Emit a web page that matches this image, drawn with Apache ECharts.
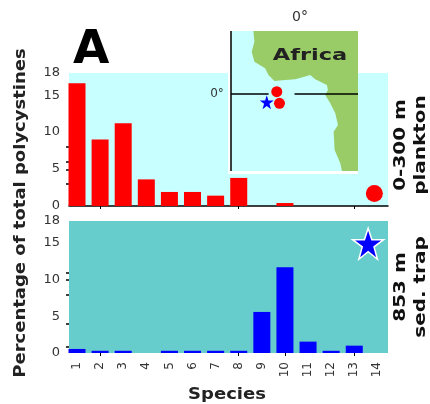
<!DOCTYPE html>
<html><head><meta charset="utf-8">
<style>html,body{margin:0;padding:0;background:#fff}#c{width:430px;height:404px}</style>
<script src="https://cdn.jsdelivr.net/npm/echarts@6/dist/echarts.min.js"></script></head>
<body><div id="c"></div>
<script>
const species = [1,2,3,4,5,6,7,8,9,10,11,12,13,14];
const yLabels = [0,5,10,15,18];
const topYTicks = [3,4.9,6,8];
const bottomYTicks = [0.8,4,8,10,10.9];
const topXTicks = [2,8,13];
const bottomXTicks = [2,8,10,13];
const plankton = [16.6,9.0,11.2,3.6,1.9,1.9,1.4,3.8,0,0.4,0,0,0,0];
const sedTrap = [0.55,0.3,0.3,0,0.3,0.3,0.3,0.3,5.6,11.7,1.55,0.3,1.0,0];
const coast = [[-9.33,12.6],[-9.13,10.47],[-9.67,8.47],[-9.13,6.47],[-7,5.13],[-6.33,3.8],[-5.13,2.6],[-3,2.8],[-1,2.93],[0.47,3.33],[2,3.8],[3,2.93],[5.33,1.8],[5.53,0.8],[5,-0.2],[6,-1.87],[7,-3.87],[7.53,-6.2],[6.67,-7.53],[6.87,-11.2],[8,-13.87],[8.33,-15.4],[11.53,-15.4],[11.53,12.6]];
const planktonSites = [[-4.67,0.47],[-4.13,-1.87]];
const trapSite = [[-6.67,-1.67]];
const equatorWest = [[-13.8,0],[-6.3,0]];
const equatorEast = [[-1.13,0],[11.53,0]];
const meridian = [[-13.8,12.6],[-13.8,-15.4]];
const font = 'DejaVu Sans';
const starPath = 'path://M50 0L62 35L100 35L69 57L80 95L50 72L20 95L31 57L0 35L38 35Z';
const xAxisCommon = {type:'value',min:0.654,max:14.46,splitLine:{show:false},
  axisLine:{show:true,onZero:false,lineStyle:{color:'#000',width:1.5}}};
function yAxis(ticks,gridIndex){return {gridIndex,type:'value',min:0,max:18,splitLine:{show:false},
  axisLine:{show:false},
  axisTick:{show:true,length:3,customValues:ticks,lineStyle:{color:'#000',width:1.5}},
  axisLabel:{customValues:yLabels,fontFamily:font,fontSize:13,color:'#333',margin:9}};}
function bars(xi,data,color){return {type:'bar',xAxisIndex:xi,yAxisIndex:xi,barWidth:17,
  data:data.map((v,i)=>[species[i],v]),itemStyle:{color},silent:true};}
const chart = echarts.init(document.getElementById('c'),null,{renderer:'canvas'});
chart.setOption({animation:false,
 grid:[
  {left:69,top:73,width:319,height:133,show:true,backgroundColor:'#c8ffff',borderWidth:0},
  {left:69,top:221,width:319,height:132,show:true,backgroundColor:'#66cccc',borderWidth:0},
  {left:231,top:31,width:127,height:140,show:true,backgroundColor:'#c8ffff',borderWidth:0}
 ],
 xAxis:[
  Object.assign({gridIndex:0,axisLabel:{show:false},axisTick:{show:true,length:3,customValues:topXTicks,lineStyle:{color:'#000'}}},xAxisCommon),
  Object.assign({gridIndex:1,axisTick:{show:true,length:3,customValues:bottomXTicks,lineStyle:{color:'#000'}},
    axisLabel:{show:true,customValues:species,rotate:90,fontFamily:font,fontSize:12,color:'#333',margin:9}},xAxisCommon,
    {axisLine:{show:false}}),
  {gridIndex:2,type:'value',min:-13.8,max:11.53,show:false}
 ],
 yAxis:[
  yAxis(topYTicks,0),
  yAxis(bottomYTicks,1),
  {gridIndex:2,type:'value',min:-15.4,max:12.6,show:false}
 ],
 series:[
  bars(0,plankton,'#ff0000'),
  bars(1,sedTrap,'#0000ff'),
  {type:'custom',xAxisIndex:2,yAxisIndex:2,z:3,silent:true,data:[0],
   renderItem:(p,api)=>({type:'polygon',shape:{points:coast.map(c=>api.coord(c))},style:{fill:'#99cc66'}})},
  {type:'line',xAxisIndex:2,yAxisIndex:2,z:4,data:equatorWest,symbol:'none',lineStyle:{color:'#000',width:1.5}},
  {type:'line',xAxisIndex:2,yAxisIndex:2,z:4,data:equatorEast,symbol:'none',lineStyle:{color:'#000',width:1.5}},
  {type:'line',xAxisIndex:2,yAxisIndex:2,z:4,data:meridian,symbol:'none',lineStyle:{color:'#000',width:1.5}},
  {type:'scatter',xAxisIndex:2,yAxisIndex:2,z:5,data:planktonSites,symbol:'circle',symbolSize:11,itemStyle:{color:'#ff0000',opacity:1}},
  {type:'scatter',xAxisIndex:2,yAxisIndex:2,z:5,data:trapSite,symbol:starPath,symbolSize:14,itemStyle:{color:'#0000ff',opacity:1}},
  {type:'scatter',xAxisIndex:0,yAxisIndex:0,z:5,data:[[13.87,1.69]],symbol:'circle',symbolSize:17,itemStyle:{color:'#ff0000',opacity:1}},
  {type:'scatter',xAxisIndex:1,yAxisIndex:1,z:5,data:[[13.6,14.9]],symbol:starPath,symbolSize:31,itemStyle:{color:'#0000ff',opacity:1,borderColor:'#fff',borderWidth:1.5}}
 ],
 graphic:[
  {type:'rect',z:1,shape:{x:228,y:31,width:3,height:143},style:{fill:'#fff'},silent:true},
  {type:'rect',z:1,shape:{x:228,y:171,width:130,height:3},style:{fill:'#fff'},silent:true},
  {type:'text',left:73,top:27,style:{text:'A',fontFamily:font,fontSize:47,fontWeight:'bold',fill:'#000'}},
  {type:'text',x:310,y:56,scaleX:1.5,z:10,style:{text:'Africa',fontFamily:font,fontSize:15,fontWeight:'bold',fill:'#222',align:'center',verticalAlign:'middle'}},
  {type:'text',x:300,y:17,style:{text:'0°',fontFamily:font,fontSize:14,fill:'#333',align:'center',verticalAlign:'middle'}},
  {type:'text',x:217,y:94,z:10,style:{text:'0°',fontFamily:font,fontSize:12,fill:'#333',align:'center',verticalAlign:'middle'}},
  {type:'text',x:227,y:395,scaleX:1.2,style:{text:'Species',fontFamily:font,fontSize:15,fontWeight:'bold',fill:'#222',align:'center',verticalAlign:'middle'}},
  {type:'text',x:21,y:213,scaleX:1.2,rotation:Math.PI/2,style:{text:'Percentage of total polycystines',fontFamily:font,fontSize:15,fontWeight:'bold',fill:'#222',align:'center',verticalAlign:'middle'}},
  {type:'text',x:411,y:145,scaleX:1.33,rotation:Math.PI/2,style:{text:'0-300 m\nplankton',fontFamily:font,fontSize:15,fontWeight:'bold',fill:'#111',align:'center',verticalAlign:'middle',lineHeight:20}},
  {type:'text',x:411,y:287,scaleX:1.33,rotation:Math.PI/2,style:{text:'853 m\nsed. trap',fontFamily:font,fontSize:15,fontWeight:'bold',fill:'#111',align:'center',verticalAlign:'middle',lineHeight:20}}
 ]
});
</script></body></html>
